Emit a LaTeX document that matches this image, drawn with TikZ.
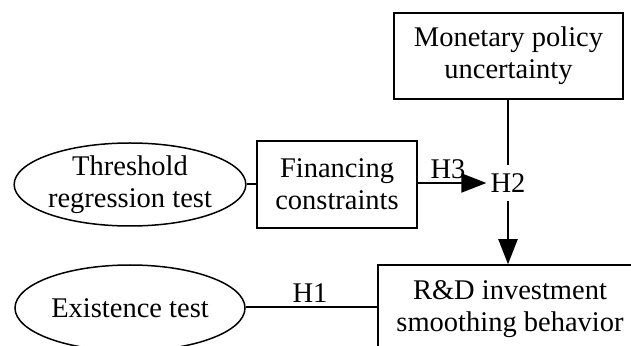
\documentclass[tikz,border=0pt]{standalone}
\usepackage{fontspec}
\setmainfont{Liberation Serif}
\usetikzlibrary{shapes.geometric,arrows.meta}
\begin{document}
\begin{tikzpicture}[x=1pt,y=1pt,
  every node/.style={font=\fontsize{28.5}{32}\selectfont, align=center},
  boxnode/.style={draw, line width=1.5pt, inner sep=0pt},
  ellnode/.style={draw, ellipse, line width=1.5pt, inner sep=0pt},
  conn/.style={line width=2pt},
  arr/.style={conn, -{Triangle[length=25pt,width=19pt]}},
  lbl/.style={inner sep=0pt}]
\useasboundingbox (0,0) rectangle (631,345);
\clip (0,0) rectangle (631,345);
\fill[white] (0,0) rectangle (631,345);
\node[boxnode, minimum width=229pt, minimum height=86pt] (mpu) at (508.5,289) {Monetary policy\\uncertainty};
\node[boxnode, minimum width=160pt, minimum height=87pt] (fc) at (337,160.5) {Financing\\constraints};
\node[ellnode, minimum width=230pt, minimum height=83pt] (thr) at (130,160.5) {Threshold\\regression test};
\node[boxnode, minimum width=264pt, minimum height=88pt] (rd) at (510,36) {R\&D investment\\smoothing behavior};
\node[ellnode, minimum width=230pt, minimum height=86pt] (ex) at (130,37) {Existence test};
\node[inner xsep=4pt, inner ysep=0pt, minimum height=35pt] (h2) at (508,162) {H2};
\draw[conn] (thr) -- (fc);
\draw[arr] (fc.east |- h2.west) -- (h2.west);
\node[lbl] (h3) at (448,176) {H3};
\draw[conn] (mpu.south -| h2.north) -- (h2.north);
\draw[arr] (h2.south) -- (h2.south |- rd.north);
\draw[conn] (ex.east |- 0,38) -- (rd.west |- 0,38);
\node[lbl] (h1) at (310,52) {H1};
\end{tikzpicture}
\end{document}
